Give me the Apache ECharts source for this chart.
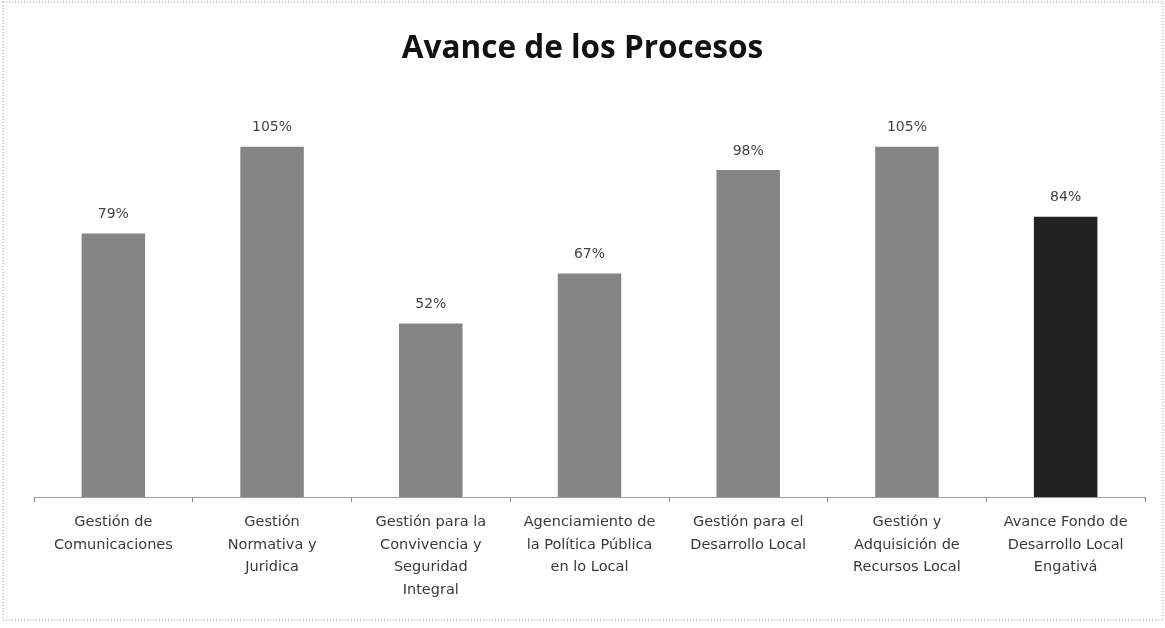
<!DOCTYPE html>
<html>
<head>
<meta charset="utf-8">
<script src="https://cdn.jsdelivr.net/npm/echarts@6/dist/echarts.min.js"></script>
<style>
  html, body { margin: 0; padding: 0; background: #ffffff; }
  #main { width: 1165px; height: 628px; }
</style>
</head>
<body>
<div id="main"></div>
<script>
// categorias (con saltos de linea como en la imagen)
var categorias = [
  "Gestión de\nComunicaciones",
  "Gestión\nNormativa y\nJuridica",
  "Gestión para la\nConvivencia y\nSeguridad\nIntegral",
  "Agenciamiento de\nla Política Pública\nen lo Local",
  "Gestión para el\nDesarrollo Local",
  "Gestión y\nAdquisición de\nRecursos Local",
  "Avance Fondo de\nDesarrollo Local\nEngativá"
];
var avance = [79, 105, 52, 67, 98, 105, 84];
var colores = ["#858585", "#858585", "#858585", "#858585", "#858585", "#858585", "#222222"];

var myChart = echarts.init(document.getElementById("main"));
var option = {
  backgroundColor: "#ffffff",
  animation: false,
  title: {
    text: "Avance de los Procesos",
    left: "center",
    top: 28,
    textStyle: {
      fontFamily: "Open Sans",
      fontWeight: "bold",
      fontSize: 31.5,
      color: "#111111"
    }
  },
  graphic: [
    {
      type: "rect",
      shape: { x: 3, y: 2, width: 1160, height: 618 },
      style: { fill: "none", stroke: "#9a9a9a", lineWidth: 1, lineDash: [1, 2] },
      silent: true
    }
  ],
  grid: {
    left: 34,
    right: 20,
    top: 130,
    bottom: 131
  },
  xAxis: {
    type: "category",
    data: categorias,
    axisLine: {
      lineStyle: { color: "#8a8a8a", type: "dotted", width: 1 }
    },
    axisTick: {
      show: true,
      length: 5,
      lineStyle: { color: "#8a8a8a" }
    },
    axisLabel: {
      interval: 0,
      margin: 14,
      fontFamily: "DejaVu Sans",
      fontSize: 14.5,
      lineHeight: 22.5,
      color: "#3a3a3a"
    }
  },
  yAxis: {
    type: "value",
    min: 0,
    max: 110,
    show: false,
    splitLine: { show: false }
  },
  series: [
    {
      type: "bar",
      barWidth: "40%",
      data: avance.map(function (v, i) {
        return { value: v, itemStyle: { color: colores[i] } };
      }),
      label: {
        show: true,
        position: "top",
        distance: 12,
        formatter: "{c}%",
        fontFamily: "DejaVu Sans",
        fontSize: 14,
        color: "#444444"
      }
    }
  ]
};
myChart.setOption(option);
</script>
</body>
</html>
